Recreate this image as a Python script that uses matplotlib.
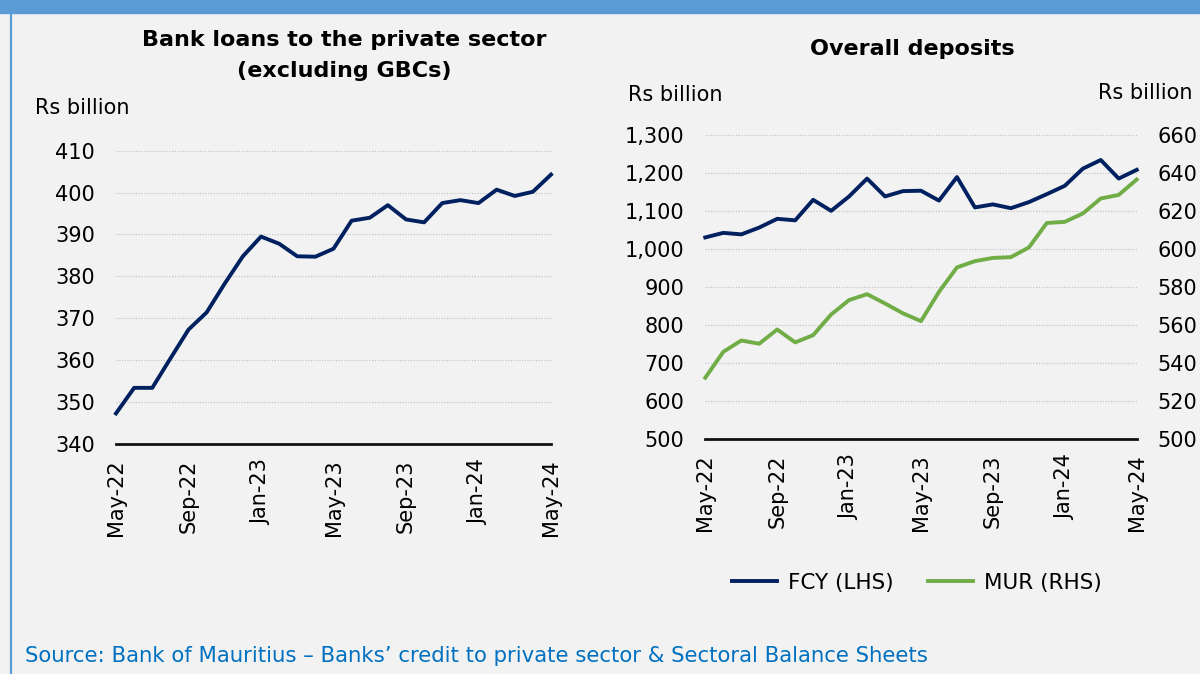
import matplotlib
matplotlib.use("Agg")
import matplotlib.pyplot as plt
from matplotlib.lines import Line2D
from matplotlib.patches import Rectangle
from matplotlib.ticker import FuncFormatter

# Monthly observations, May-22 to May-24
months = ["May-22", "Jun-22", "Jul-22", "Aug-22", "Sep-22", "Oct-22", "Nov-22",
          "Dec-22", "Jan-23", "Feb-23", "Mar-23", "Apr-23", "May-23", "Jun-23",
          "Jul-23", "Aug-23", "Sep-23", "Oct-23", "Nov-23", "Dec-23", "Jan-24",
          "Feb-24", "Mar-24", "Apr-24", "May-24"]

# Bank loans to the private sector excluding GBCs (Rs billion)
loans = [347.3, 353.4, 353.4, 360.4, 367.3, 371.4, 378.3, 384.8, 389.5, 387.8,
         384.8, 384.7, 386.6, 393.3, 394.0, 397.0, 393.6, 392.9, 397.5, 398.2,
         397.5, 400.7, 399.2, 400.2, 404.3]

# Overall deposits (Rs billion)
fcy = [1031, 1043, 1039, 1057, 1080, 1076, 1130, 1101, 1139, 1186, 1139, 1153,
       1154, 1128, 1190, 1110, 1118, 1108, 1124, 1145, 1167, 1212, 1235, 1186,
       1209]
mur = [532.3, 545.9, 551.9, 550.2, 557.7, 550.9, 554.7, 565.6, 573.2, 576.3,
       571.4, 566.2, 562.1, 577.5, 590.4, 593.7, 595.4, 595.8, 600.9, 613.8,
       614.4, 618.8, 626.7, 628.6, 636.7]

tick_months = ["May-22", "Sep-22", "Jan-23", "May-23", "Sep-23", "Jan-24", "May-24"]
loans_ticks = [340, 350, 360, 370, 380, 390, 400, 410]
fcy_ticks = [500, 600, 700, 800, 900, 1000, 1100, 1200, 1300]
mur_ticks = [500, 520, 540, 560, 580, 600, 620, 640, 660]

NAVY = "#002060"
GREEN = "#70ad47"
BLUE_BAND = "#5b9bd5"
BG = "#f2f2f2"
FS = 15

plt.rcParams["font.family"] = ["DejaVu Sans"]

W, H = 1200, 674
fig = plt.figure(figsize=(W / 100, H / 100), dpi=100, facecolor=BG)


def fx(px):
    return px / W


def fy(py):
    return 1 - py / H


# Frame: blue top band and left rule
fig.patches.append(Rectangle((0, fy(13)), 1, 13 / H, transform=fig.transFigure,
                             color=BLUE_BAND, zorder=0))
fig.add_artist(Line2D([fx(11), fx(11)], [0, fy(13)], transform=fig.transFigure,
                      color=BLUE_BAND, lw=1.6))

x = list(range(len(months)))
tick_pos = [months.index(m) for m in tick_months]


def style_axes(ax, yticks):
    ax.set_facecolor(BG)
    ax.set_xlim(0, len(months) - 1)
    ax.set_ylim(yticks[0], yticks[-1])
    ax.set_yticks(yticks)
    ax.set_xticks(tick_pos)
    ax.set_xticklabels(tick_months, rotation=90, fontsize=FS)
    ax.tick_params(axis="both", length=0, labelsize=FS)
    ax.tick_params(axis="x", pad=11)
    ax.tick_params(axis="y", pad=15)
    ax.grid(axis="y", color="#bfbfbf", linestyle=(0, (1, 1.5)), lw=0.8)
    ax.set_axisbelow(True)
    for s in ["left", "right", "top"]:
        ax.spines[s].set_visible(False)
    ax.spines["bottom"].set_color("#111111")
    ax.spines["bottom"].set_linewidth(2.0)
    ax.spines["bottom"].set_zorder(3)


# Left panel: bank loans
axl = fig.add_axes([fx(116), fy(444), fx(551 - 116), (444 - 150.7) / H])
style_axes(axl, loans_ticks)
axl.plot(x, loans, color=NAVY, lw=2.8, clip_on=False, zorder=4)

fig.text(fx(344), fy(40), "Bank loans to the private sector", ha="center", va="center",
         fontsize=16, fontweight="bold")
fig.text(fx(344), fy(71), "(excluding GBCs)", ha="center", va="center",
         fontsize=16, fontweight="bold")
fig.text(fx(35), fy(108), "Rs billion", ha="left", va="center", fontsize=FS)

# Right panel: overall deposits, FCY on left axis and MUR on right axis
axr = fig.add_axes([fx(705.3), fy(439), fx(1136.7 - 705.3), (439 - 135.3) / H])
style_axes(axr, fcy_ticks)
axr.yaxis.set_major_formatter(FuncFormatter(lambda v, p: f"{int(v):,}"))
axr.plot(x, fcy, color=NAVY, lw=2.8, clip_on=False, zorder=4)

axm = axr.twinx()
axm.set_ylim(mur_ticks[0], mur_ticks[-1])
axm.set_yticks(mur_ticks)
axm.tick_params(axis="y", length=0, labelsize=FS, pad=15)
for s in ["left", "right", "top", "bottom"]:
    axm.spines[s].set_visible(False)
axm.plot(x, mur, color=GREEN, lw=2.8, clip_on=False, zorder=4)

fig.text(fx(912), fy(49), "Overall deposits", ha="center", va="center",
         fontsize=16, fontweight="bold")
fig.text(fx(628), fy(95), "Rs billion", ha="left", va="center", fontsize=FS)
fig.text(fx(1193), fy(93), "Rs billion", ha="right", va="center", fontsize=FS)

handles = [Line2D([], [], color=NAVY, lw=2.8), Line2D([], [], color=GREEN, lw=2.8)]
fig.legend(handles, ["FCY (LHS)", "MUR (RHS)"], loc="center",
           bbox_to_anchor=(fx(917), fy(583)), ncol=2, frameon=False, fontsize=15.5,
           handlelength=2.1, handletextpad=0.5, columnspacing=1.6,
           borderaxespad=0, borderpad=0)

fig.text(fx(25), fy(656), "Source: Bank of Mauritius \u2013 Banks\u2019 credit to private sector & Sectoral Balance Sheets",
         ha="left", va="center", fontsize=15.3, color="#0070c0")

fig.savefig("out.png", dpi=100, facecolor=BG)
